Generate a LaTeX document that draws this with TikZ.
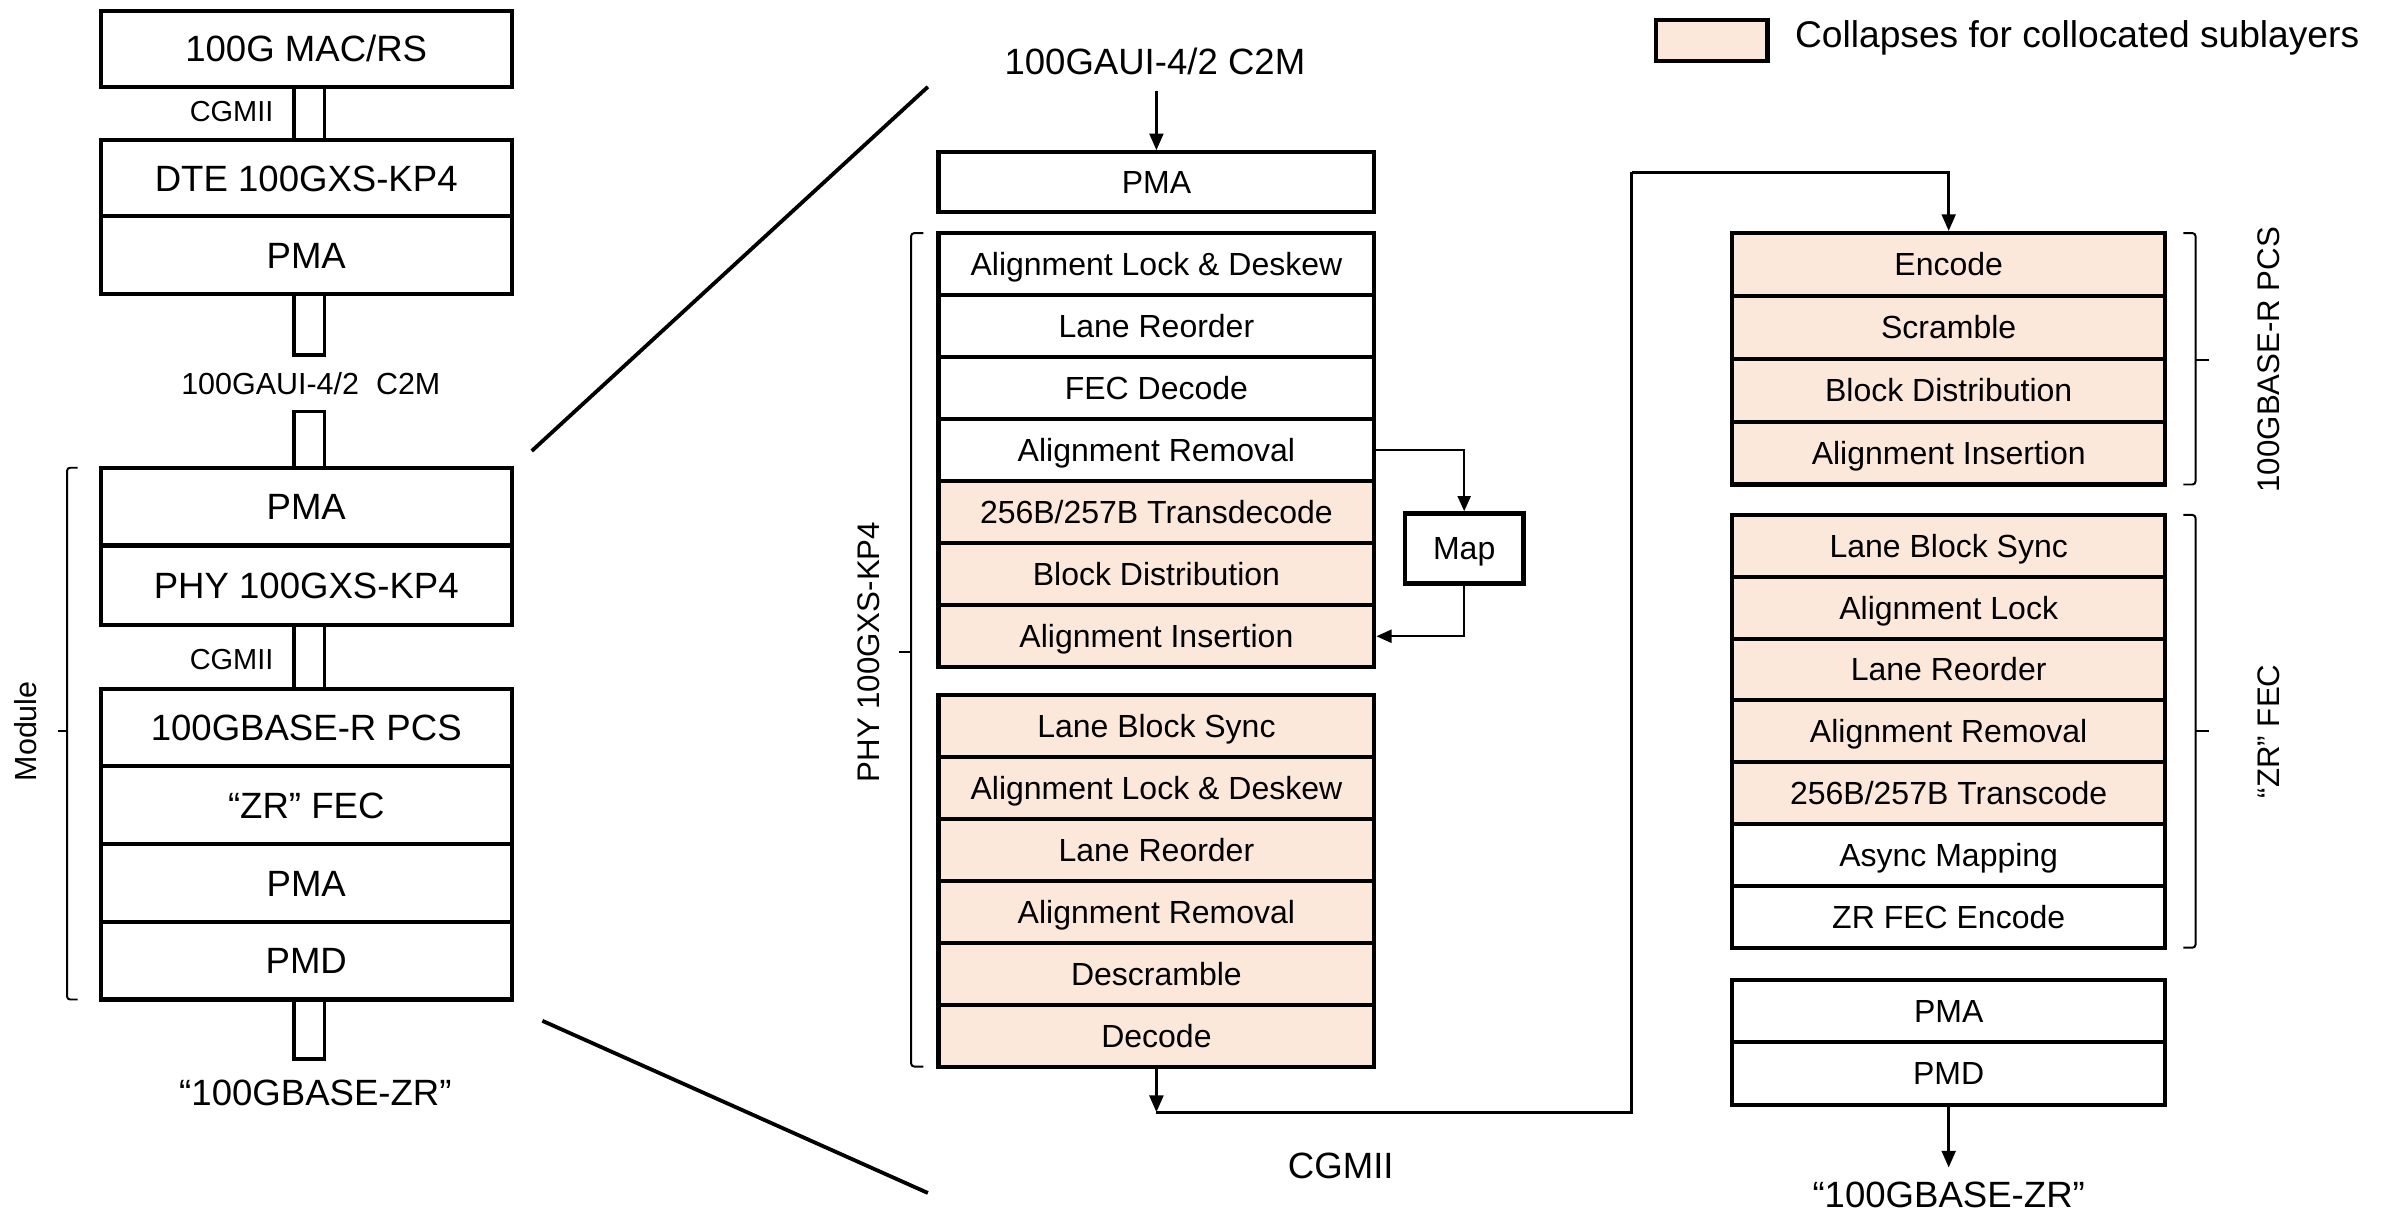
\documentclass[tikz,border=0pt]{standalone}
\usepackage{fontspec}
\setmainfont{Liberation Sans}
\usetikzlibrary{arrows.meta}
\definecolor{peach}{HTML}{FCE8DA}
\tikzset{
  lay/.style={draw, line width=2.7pt, inner sep=0pt, minimum width=270pt, fill=white, font=\fontsize{24}{28}\selectfont, text height=17.2pt, text depth=0pt},
  midrow/.style={draw, line width=2.7pt, inner sep=0pt, minimum width=286pt, font=\fontsize{21}{24}\selectfont, text height=15pt, text depth=0pt},
  rgtrow/.style={draw, line width=2.7pt, inner sep=0pt, minimum width=284pt, font=\fontsize{21}{24}\selectfont, text height=15pt, text depth=0pt},
  pe/.style={fill=peach},
  wh/.style={fill=white},
  conn/.style={draw, line width=2.4pt, minimum width=20pt, inner sep=0pt, fill=white},
  arr/.style={line width=2pt, -{Triangle[length=11pt,width=9pt]}},
  thinarr/.style={line width=1.6pt, -{Triangle[length=10pt,width=8.5pt]}},
  brk/.style={line width=1.3pt, rounded corners=2pt},
  tick/.style={line width=1.3pt},
  zl/.style={line width=2.5pt},
  lbl/.style={inner sep=0pt, font=\fontsize{24}{28}\selectfont},
  small/.style={inner sep=0pt, font=\fontsize{19}{22}\selectfont},
  side/.style={inner sep=0pt, rotate=90, font=\fontsize{20.5}{24}\selectfont},
}
\begin{document}
\begin{tikzpicture}[x=1pt,y=-1pt]
\useasboundingbox (0,0) rectangle (1568,797);
% ---------- left column ----------
\node[conn, minimum height=35pt] (c1) at (203,74.5) {};
\node[conn, minimum height=40pt] (c2) at (203,213) {};
\node[conn, minimum height=37pt] (c3) at (203,288.5) {};
\node[conn, minimum height=42pt] (c4) at (203,431) {};
\node[conn, minimum height=39pt] (c5) at (203,675.5) {};
\node[lay, minimum height=50pt] (mac) at (201,32) {100G MAC/RS};
\node[lay, minimum height=50pt] (dte) at (201,117) {DTE 100GXS-KP4};
\node[lay, minimum height=51pt] (lpma1) at (201,167.5) {PMA};
\node[lay, minimum height=51pt] (lpma2) at (201,332.5) {PMA};
\node[lay, minimum height=52pt] (lphy) at (201,384) {PHY 100GXS-KP4};
\node[lay, minimum height=51pt] (lpcs) at (201,477.5) {100GBASE-R PCS};
\node[lay, minimum height=51pt] (lfec) at (201,528.5) {“ZR” FEC};
\node[lay, minimum height=51pt] (lpma3) at (201,579.5) {PMA};
\node[lay, minimum height=51pt] (lpmd) at (201,630.5) {PMD};
\node[small] (cg1) at (152,73) {CGMII};
\node[small] (cg2) at (152,433) {CGMII};
\node[inner sep=0pt, font=\fontsize{20}{24}\selectfont] (gl) at (204,252) {100GAUI-4/2\ \ C2M};
\node[lbl] (zrl) at (207,717) {“100GBASE-ZR”};
\draw[brk] (51,307) -- (44,307) -- (44,656) -- (51,656);
\draw[tick] (44,480) -- (38,480);
\node[side, font=\fontsize{20}{24}\selectfont] (modl) at (17,480) {Module};
% zoom lines
\coordinate (z1a) at (349,296);
\coordinate (z1b) at (609,57);
\coordinate (z2a) at (356,670);
\coordinate (z2b) at (609,783);
\draw[zl] (z1a) -- (z1b);
\draw[zl] (z2a) -- (z2b);
% ---------- middle column ----------
\node[lbl] (gaui) at (758,40) {100GAUI-4/2 C2M};
\node[midrow, wh, minimum height=39pt] (mpma) at (759,119.5) {PMA};
\node[midrow, wh, minimum height=40.71pt] (a1) at (759,173.4) {Alignment Lock \& Deskew};
\node[midrow, wh, minimum height=40.71pt] (a2) at (759,214.1) {Lane Reorder};
\node[midrow, wh, minimum height=40.71pt] (a3) at (759,254.8) {FEC Decode};
\node[midrow, wh, minimum height=40.71pt] (a4) at (759,295.5) {Alignment Removal};
\node[midrow, pe, minimum height=40.71pt] (a5) at (759,336.2) {256B/257B Transdecode};
\node[midrow, pe, minimum height=40.71pt] (a6) at (759,376.9) {Block Distribution};
\node[midrow, pe, minimum height=40.71pt] (a7) at (759,417.6) {Alignment Insertion};
\node[midrow, pe, minimum height=40.67pt] (b1) at (759,476.3) {Lane Block Sync};
\node[midrow, pe, minimum height=40.67pt] (b2) at (759,517.0) {Alignment Lock \& Deskew};
\node[midrow, pe, minimum height=40.67pt] (b3) at (759,557.7) {Lane Reorder};
\node[midrow, pe, minimum height=40.67pt] (b4) at (759,598.3) {Alignment Removal};
\node[midrow, pe, minimum height=40.67pt] (b5) at (759,639.0) {Descramble};
\node[midrow, pe, minimum height=40.67pt] (b6) at (759,679.7) {Decode};
\node[draw, line width=2.9pt, inner sep=0pt, minimum width=78pt, minimum height=46pt, font=\fontsize{21}{24}\selectfont, text height=15pt, text depth=0pt] (map) at (961,360) {Map};
\coordinate (gs) at (759,60);
\draw[arr] (gs) -- (mpma.north);
\draw[thinarr] (a4.east) -| (map.north);
\draw[thinarr] (map.south) |- (a7.east);
\draw[brk] (606,153) -- (598,153) -- (598,700) -- (606,700);
\draw[tick] (598,428) -- (590,428);
\node[side] (phyl) at (570,428) {PHY 100GXS-KP4};
\coordinate (cgp) at (759,730);
\coordinate (k1) at (1071,730);
\coordinate (k2) at (1071,113);
\draw[arr] (b6.south) -- (cgp);
\node[lbl] (cgm) at (880,765) {CGMII};
% ---------- right column ----------
\node[rgtrow, pe, minimum height=41.25pt] (e1) at (1279,173.6) {Encode};
\node[rgtrow, pe, minimum height=41.25pt] (e2) at (1279,214.9) {Scramble};
\node[rgtrow, pe, minimum height=41.25pt] (e3) at (1279,256.1) {Block Distribution};
\node[rgtrow, pe, minimum height=41.25pt] (e4) at (1279,297.4) {Alignment Insertion};
\node[rgtrow, pe, minimum height=40.57pt] (f1) at (1279,358.3) {Lane Block Sync};
\node[rgtrow, pe, minimum height=40.57pt] (f2) at (1279,398.9) {Alignment Lock};
\node[rgtrow, pe, minimum height=40.57pt] (f3) at (1279,439.4) {Lane Reorder};
\node[rgtrow, pe, minimum height=40.57pt] (f4) at (1279,480.0) {Alignment Removal};
\node[rgtrow, pe, minimum height=40.57pt] (f5) at (1279,520.6) {256B/257B Transcode};
\node[rgtrow, wh, minimum height=40.57pt] (f6) at (1279,561.1) {Async Mapping};
\node[rgtrow, wh, minimum height=40.57pt] (f7) at (1279,601.7) {ZR FEC Encode};
\node[rgtrow, wh, minimum height=41pt] (g1) at (1279,663.5) {PMA};
\node[rgtrow, wh, minimum height=41pt] (g2) at (1279,704.5) {PMD};
\draw[line width=2pt] (cgp) -- (k1) -- (k2);
\draw[arr] (k2) -| (e1.north);
\node[lbl] (zrr) at (1279,784) {“100GBASE-ZR”};
\draw[arr, shorten >=9pt] (g2.south) -- (zrr.north);
\draw[brk] (1433,153) -- (1441,153) -- (1441,318) -- (1433,318);
\draw[tick] (1441,236) -- (1450,236);
\node[side] (pcsl) at (1489,236) {100GBASE-R PCS};
\draw[brk] (1433,338) -- (1441,338) -- (1441,622) -- (1433,622);
\draw[tick] (1441,480) -- (1450,480);
\node[side] (fecl) at (1489,480) {“ZR” FEC};
% legend
\node[draw, line width=2.8pt, fill=peach, minimum width=73pt, minimum height=27pt, inner sep=0pt] (leg) at (1123.5,26.5) {};
\node[inner sep=0pt, font=\fontsize{24.4}{28}\selectfont, anchor=west] (legt) at (1178,25) {Collapses for collocated sublayers};
\end{tikzpicture}
\end{document}
